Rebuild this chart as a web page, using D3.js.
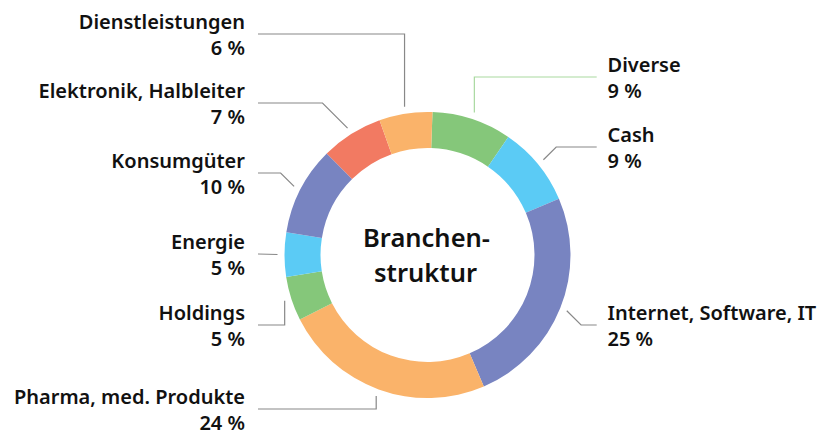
<!DOCTYPE html>
<html><head><meta charset="utf-8">
<script src="https://cdn.jsdelivr.net/npm/d3@7"></script>
<style>
html,body{margin:0;padding:0;background:#fff;}
text{font-family:"Noto Sans",Lato,sans-serif;font-weight:600;fill:#111;}
</style></head>
<body><svg id="c" width="824" height="431"></svg>
<script>
const categories = ["Diverse","Cash","Internet, Software, IT","Pharma, med. Produkte","Holdings","Energie","Konsumgüter","Elektronik, Halbleiter","Dienstleistungen"];
const values = [9,9,25,24,5,5,10,7,6];
const colors = ["#85c77a","#5bcbf5","#7884c1","#fab36a","#85c77a","#5bcbf5","#7884c1","#f27a62","#fab36a"];
const lineColors = ["#a9d9a0","#888","#888","#888","#888","#888","#888","#888","#888"];
// label layout (annotation placement)
const labelLineY = [77, 147, 325, 409, 325, 254, 173, 103, 34];
const elbowType = ["v","d","d","v","v","h","d","d","v"];
const centerTitle = ["Branchen-","struktur"];

const W=824,H=431,cx=427.5,cy=255,rOut=143,rIn=107,rLead=150;
const offset = 2*Math.PI/180;
const svg=d3.select("#c");
const g=svg.append("g").attr("transform",`translate(${cx},${cy})`);
const data = categories.map((c,i)=>({name:c,value:values[i],i}));
const pie=d3.pie().sort(null).value(d=>d.value).startAngle(offset).endAngle(offset+2*Math.PI);
const arc=d3.arc().innerRadius(rIn).outerRadius(rOut);
const arcs=pie(data);
g.selectAll("path.slice").data(arcs).join("path").attr("class","slice")
 .attr("d",arc).attr("fill",d=>colors[d.data.i]);

const rightX=596.7-cx, leftX=258-cx, rightText=607.5-cx, leftText=245-cx;
arcs.forEach(a=>{
  const i=a.data.i, m=(a.startAngle+a.endAngle)/2;
  const px=rLead*Math.sin(m), py=-rLead*Math.cos(m);
  const right = Math.sin(m)>0;
  const ly=labelLineY[i]-cy;
  const ex= right?rightX:leftX;
  let pts;
  if(elbowType[i]==="v") pts=[[px,py],[px,ly],[ex,ly]];
  else if(elbowType[i]==="d"){const dy=Math.abs(ly-py);pts=[[px,py],[px+(right?dy:-dy),ly],[ex,ly]];}
  else pts=[[px,py],[ex,ly]];
  g.append("path").attr("d",d3.line()(pts)).attr("fill","none")
   .attr("stroke",lineColors[i]).attr("stroke-width",1.2);
  const t=g.append("text").attr("text-anchor",right?"start":"end").attr("font-size",20);
  const tx= right?rightText:leftText;
  t.append("tspan").attr("x",tx).attr("y",ly-5).text(a.data.name);
  t.append("tspan").attr("x",tx).attr("y",ly+20.5).text(a.data.value+" %");
});
const ct=g.append("text").attr("text-anchor","middle").attr("font-size",25.5);
ct.append("tspan").attr("x",-1).attr("y",-7.7).text(centerTitle[0]);
ct.append("tspan").attr("x",-2).attr("y",26.7).text(centerTitle[1]);
</script></body></html>
